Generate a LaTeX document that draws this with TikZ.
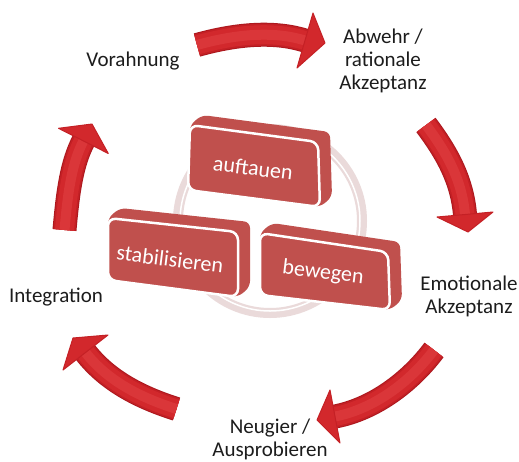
\documentclass[tikz,border=0pt]{standalone}
\usepackage{fontspec}
\setmainfont{Carlito}
\usetikzlibrary{calc}
\definecolor{boxcol}{RGB}{192,80,77}
\definecolor{arrdark}{RGB}{172,24,30}
\definecolor{arrmid}{RGB}{196,32,37}
\definecolor{arrmain}{RGB}{210,40,44}
\definecolor{arrlight}{RGB}{218,54,57}
\definecolor{ringcol}{RGB}{234,218,218}
\definecolor{txtcol}{RGB}{28,28,28}
\newcommand{\cyclearrow}[7]{%
  \foreach \lw/\lc in {24/arrdark,22/arrmid,19/arrmain,10/arrlight}{%
    \draw[line width=\lw pt, draw=\lc, line cap=butt] #1 .. controls #2 and #3 .. #4;}
  \fill[arrmain, draw=arrmid, line width=1pt, line join=round] #6 -- #5 -- #7 -- cycle;
}
\newcommand{\extrudedbox}[8]{%
  \fill[boxcol, rounded corners=6pt] #1 -- ($#1+(12,-10)$) -- ($#2+(12,-10)$) -- ($#3+(12,-10)$) -- #3 -- #4 -- cycle;
  \draw[white, line width=2.5pt, fill=boxcol, rounded corners=8pt] #1 -- #2 -- #3 -- #4 -- cycle;
  \node[boxtext] (#8) at #5 {#6};
}
\begin{document}
\begin{tikzpicture}[x=1pt,y=-1pt,
  lbl/.style={font=\fontsize{21}{23}\selectfont, text=txtcol, inner sep=0pt, align=center},
  boxtext/.style={font=\fontsize{22}{24}\selectfont, text=white, inner sep=0pt, rotate=-7}]
\useasboundingbox (0,0) rectangle (519,461);
\fill[white] (0,0) rectangle (519,461);

% ring
\draw[ringcol, line width=10pt] (270,221) circle[radius=92pt];
\draw[white, line width=1.5pt] (270,221) circle[radius=90pt];

% boxes
\extrudedbox{(190,125)}{(318,142)}{(320,207)}{(188,190)}{(253,168)}{auftauen}{}{auf}
\extrudedbox{(108,218)}{(238,232)}{(238,297)}{(108,280)}{(170,259)}{stabilisieren}{}{stab}
\extrudedbox{(260,233)}{(388,252)}{(390,310)}{(260,295)}{(323,273)}{bewegen}{}{bew}

% arrows
\cyclearrow{(197,45)}{(240,33)}{(276,31.5)}{(305,40.5)}{(325,43)}{(313,13)}{(297,68)}
\cyclearrow{(426,125)}{(447,153)}{(462,180)}{(465,214.5)}{(468,232)}{(437,217)}{(493,212)}
\cyclearrow{(434,350)}{(410,382)}{(374,409)}{(335,416.5)}{(317,420)}{(330,390)}{(340,443)}
\cyclearrow{(176.5,409)}{(138.5,397)}{(107,380)}{(85.5,352.5)}{(73,338)}{(108,335)}{(63,370)}
\cyclearrow{(64.5,230)}{(68,190)}{(72,163)}{(83.4,140.9)}{(92,124)}{(108.3,153.5)}{(58.5,128.3)}

% labels
\node[lbl] (vor) at (133,61) {Vorahnung};
\node[lbl] (abw) at (383,61) {Abwehr /\\rationale\\Akzeptanz};
\node[lbl] (emo) at (469,296.5) {Emotionale\\Akzeptanz};
\node[lbl] (int) at (56,297) {Integration};
\node[lbl] (neu) at (270,439) {Neugier /\\Ausprobieren};
\end{tikzpicture}
\end{document}
